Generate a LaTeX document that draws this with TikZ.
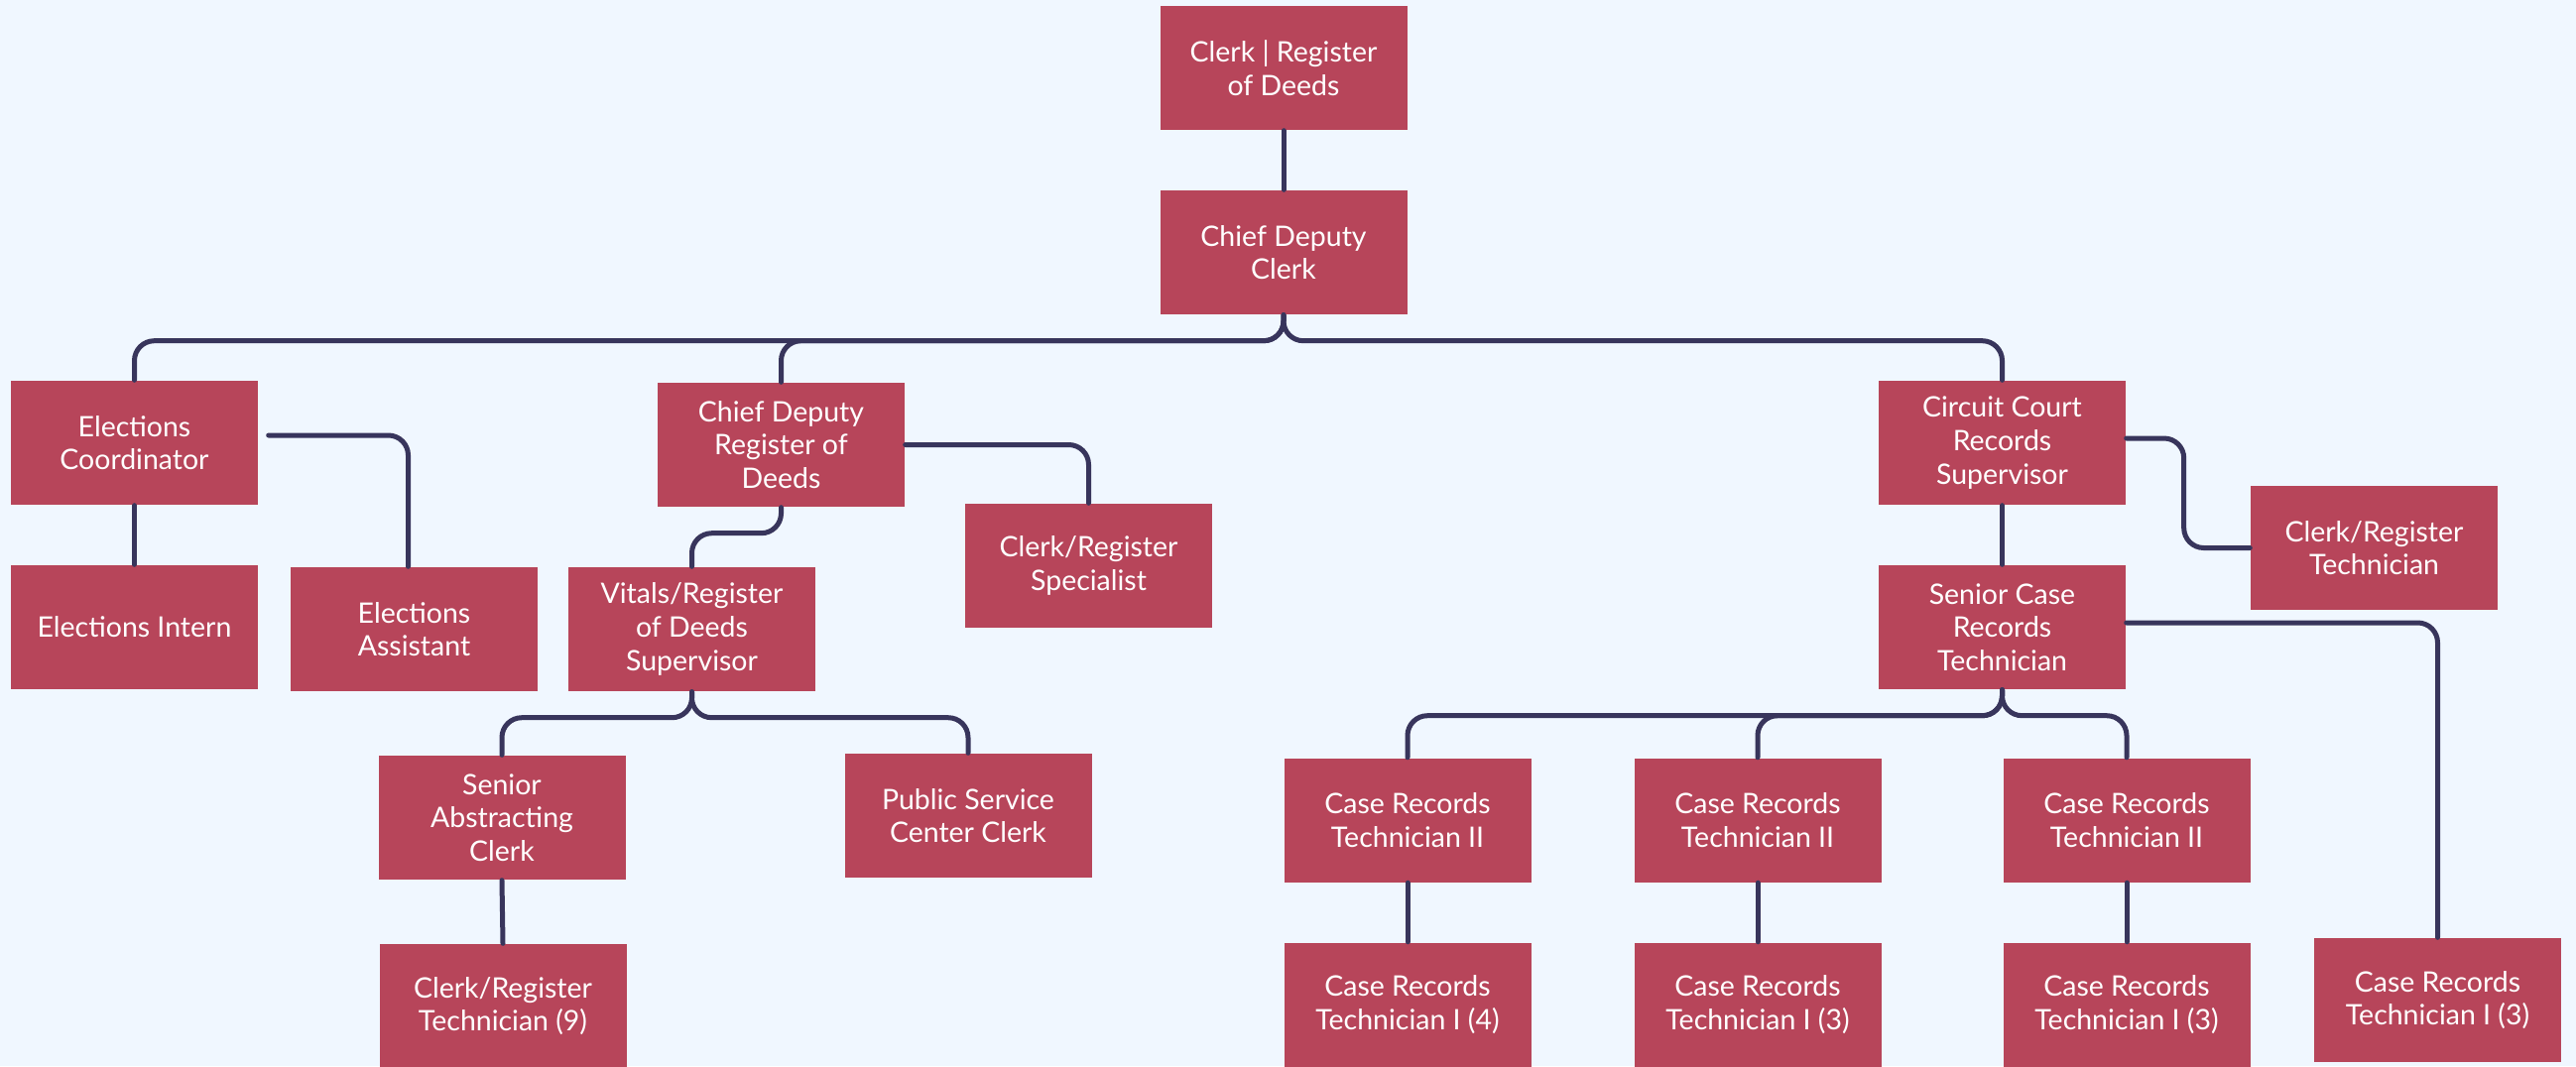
\documentclass[tikz,border=0pt]{standalone}
\usepackage{fontspec}
\setmainfont{Lato}
\usepackage{tikz}

\definecolor{paper}{HTML}{F0F7FF}
\definecolor{boxred}{HTML}{B7455A}
\definecolor{linenavy}{HTML}{38355C}

\tikzset{
  post/.style={fill=boxred, text=white, minimum width=24.9mm, minimum height=12.5mm,
    inner sep=0pt, align=center, font=\fontsize{8.1pt}{9.6pt}\selectfont},
  link/.style={draw=linenavy, line width=0.5mm, line cap=round, rounded corners=2mm}
}

\begin{document}
\begin{tikzpicture}[x=0.1mm, y=-0.1mm]
  % Background (fixes the page size)
  \fill[paper] (0,0) rectangle (2597,1075);
  \useasboundingbox (0,0) rectangle (2597,1075);

  % Top of the tree
  \node[post] (clerk) at (1294,68.5) {Clerk | Register\\of Deeds};
  \node[post] (cdc) at (1294,254.5) {Chief Deputy\\Clerk};

  % Elections branch
  \node[post] (ec) at (135.5,446.5) {Elections\\Coordinator};
  \node[post] (ei) at (135.5,632.5) {Elections Intern};
  \node[post] (ea) at (417.5,634.5) {Elections\\Assistant};

  % Register of Deeds branch
  \node[post] (cdr) at (787.5,448.5) {Chief Deputy\\Register of\\Deeds};
  \node[post] (crs) at (1097.5,570.5) {Clerk/Register\\Specialist};
  \node[post] (vit) at (697.5,634.5) {Vitals/Register\\of Deeds\\Supervisor};
  \node[post] (sac) at (506,824.5) {Senior\\Abstracting\\Clerk};
  \node[post] (psc) at (976,822.5) {Public Service\\Center Clerk};
  \node[post] (crt9) at (507,1014.5) {Clerk/Register\\Technician (9)};

  % Circuit Court branch
  \node[post] (ccr) at (2018.5,446.5) {Circuit Court\\Records\\Supervisor};
  \node[post] (crt) at (2393.5,552.5) {Clerk/Register\\Technician};
  \node[post] (scr) at (2018.5,632.5) {Senior Case\\Records\\Technician};
  \foreach \n/\x/\k in {a/1419/4, b/1772/3, c/2144/3} {
    \node[post] (t2\n) at (\x,827) {Case Records\\Technician II};
    \node[post] (t1\n) at (\x,1013) {Case Records\\Technician I (\k)};
  }
  \node[post] (t1d) at (2457.5,1008.5) {Case Records\\Technician I (3)};

  % Connectors
  \draw[link] (clerk.south) -- (cdc.north);
  \foreach \c in {ec,cdr,ccr}
    \draw[link] (cdc.south) -- ++(0,26) -| (\c.north);

  \draw[link] (ec.south) -- (ei.north);
  \draw[link] ([xshift=1mm,yshift=0.75mm]ec.east) -| ([xshift=-0.6mm]ea.north);

  \draw[link] (cdr.east) -| (crs.north);
  \draw[link] (cdr.south) -- ++(0,26) -| (vit.north);
  \foreach \c in {sac,psc}
    \draw[link] (vit.south) -- ++(0,26) -| (\c.north);
  \draw[link] (sac.south) -- (crt9.north);

  \draw[link] (ccr.south) -- (scr.north);
  \draw[link] ([yshift=0.45mm]ccr.east) -- ++(58,0) |- (crt.west);
  \draw[link] ([yshift=0.45mm]scr.east) -| (t1d.north);
  \foreach \n in {a,b,c} {
    \draw[link] (scr.south) -- ++(0,26) -| (t2\n.north);
    \draw[link] (t2\n.south) -- (t1\n.north);
  }
\end{tikzpicture}
\end{document}
